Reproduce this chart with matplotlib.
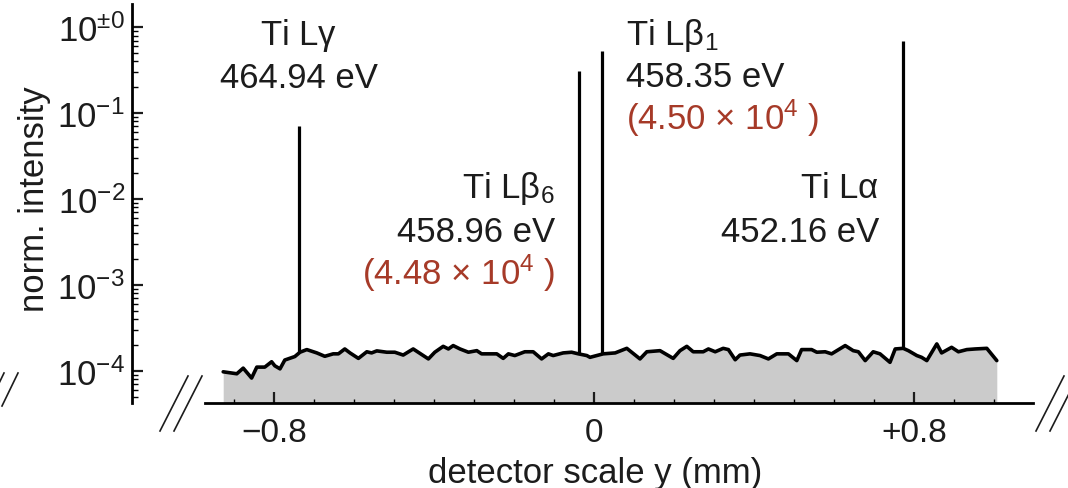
import numpy as np
import matplotlib
matplotlib.use("Agg")
import matplotlib.pyplot as plt
from matplotlib.lines import Line2D

plt.rcParams["font.family"] = ["Liberation Sans", "DejaVu Sans"]
plt.rcParams["mathtext.fontset"] = "custom"
plt.rcParams["mathtext.rm"] = "Liberation Sans"
plt.rcParams["mathtext.it"] = "Liberation Sans:italic"

# background level along the detector (y in mm, intensity in units of 1e-4)
bg_y = [-0.927, -0.893, -0.877, -0.856, -0.843, -0.823, -0.806, -0.798, -0.785,
        -0.773, -0.748, -0.735, -0.718, -0.693, -0.673, -0.652, -0.639, -0.623,
        -0.610, -0.589, -0.568, -0.556, -0.543, -0.518, -0.498, -0.477, -0.460,
        -0.452, -0.414, -0.398, -0.377, -0.364, -0.352, -0.335, -0.314, -0.293,
        -0.281, -0.243, -0.227, -0.214, -0.198, -0.173, -0.152, -0.131, -0.114,
        -0.102, -0.077, -0.056, -0.039, -0.018, -0.010, 0.023, 0.053, 0.082,
        0.115, 0.132, 0.165, 0.198, 0.215, 0.232, 0.248, 0.273, 0.286, 0.303,
        0.323, 0.336, 0.353, 0.365, 0.390, 0.415, 0.436, 0.457, 0.465, 0.486,
        0.507, 0.519, 0.544, 0.557, 0.578, 0.594, 0.628, 0.648, 0.661, 0.678,
        0.698, 0.715, 0.740, 0.753, 0.773, 0.786, 0.807, 0.819, 0.832, 0.857,
        0.869, 0.894, 0.911, 0.932, 0.953, 0.982, 1.007]
bg_level = [0.97, 0.92, 1.07, 0.82, 1.10, 1.10, 1.27, 1.14, 1.05,
            1.33, 1.46, 1.64, 1.76, 1.61, 1.47, 1.57, 1.57, 1.79,
            1.61, 1.39, 1.66, 1.61, 1.70, 1.64, 1.64, 1.52, 1.70,
            1.79, 1.37, 1.64, 1.92, 1.79, 1.96, 1.79, 1.64, 1.71,
            1.57, 1.57, 1.39, 1.57, 1.50, 1.66, 1.66, 1.37, 1.57,
            1.50, 1.61, 1.64, 1.57, 1.50, 1.43, 1.57, 1.61, 1.82,
            1.37, 1.66, 1.71, 1.39, 1.71, 1.92, 1.66, 1.66, 1.79, 1.66,
            1.82, 1.76, 1.34, 1.52, 1.57, 1.50, 1.37, 1.57, 1.57, 1.57,
            1.31, 1.76, 1.76, 1.64, 1.66, 1.57, 1.96, 1.71, 1.66, 1.31,
            1.66, 1.57, 1.25, 1.79, 1.82, 1.71, 1.50, 1.43, 1.31, 2.05,
            1.61, 1.87, 1.66, 1.76, 1.79, 1.82, 1.31]

# emission lines: position (mm), peak height, foot level
peak_names = [r"Ti L$\mathregular{γ}$", r"Ti L$\mathregular{β_6}$",
              r"Ti L$\mathregular{β_1}$", r"Ti L$\mathregular{α}$"]
peak_energy = ["464.94 eV", "458.96 eV", "458.35 eV", "452.16 eV"]
peak_pos = [-0.7375, -0.0375, 0.021, 0.773]
peak_height = [0.071, 0.31, 0.53, 0.70]
peak_foot = [1.64e-4, 1.57e-4, 1.57e-4, 1.82e-4]
peak_counts = [None, r"(4.48 × $\mathregular{10^4}$ )",
               r"(4.50 × $\mathregular{10^4}$ )", None]

yticks = [1e-4, 1e-3, 1e-2, 1e-1, 1]
ytick_labels = [r"$\mathregular{10^{-4}}$", r"$\mathregular{10^{-3}}$",
                r"$\mathregular{10^{-2}}$", r"$\mathregular{10^{-1}}$",
                r"$\mathregular{10^{±0}}$"]
xticks = [-0.8, 0, 0.8]
xtick_labels = ["\u22120.8", "0", "+0.8"]
xminor = [-0.9, -0.7, -0.6, -0.5, -0.4, -0.3, -0.2, -0.1, 0.1, 0.2, 0.3,
          0.4, 0.5, 0.6, 0.7, 0.9, 1.0]

INK = "#1c1c1c"
RED = "#a63a28"
FS = 25

W, H = 1068, 489
fig = plt.figure(figsize=(W / 100, H / 100), dpi=100)
ax = fig.add_axes([132 / W, 85 / H, 901 / W, 399 / H])

x = np.array(bg_y)
level = np.array(bg_level) * 1e-4
ax.fill_between(x, 1e-6, level, color="#cbcbcb", lw=0, zorder=1)
ax.plot(x, level, color="black", lw=2.6, solid_joinstyle="round",
        solid_capstyle="round", zorder=3)
ax.vlines(peak_pos, peak_foot, peak_height, color="black", lw=2.3, zorder=3)

ax.set_yscale("log")
ax.set_ylim(4.2e-5, 1.87)
ax.set_xlim(-1.155, 1.0975)

for side in ["top", "right"]:
    ax.spines[side].set_visible(False)
ax.spines["left"].set_linewidth(2.0)
ax.spines["bottom"].set_linewidth(2.0)
ax.spines["bottom"].set_bounds(-0.9725, 1.0975)

ax.set_yticks(yticks, ytick_labels)
ax.set_xticks(xticks, xtick_labels)
ax.set_xticks(xminor, minor=True)
ax.tick_params(axis="y", which="major", direction="in", length=8, width=1.6,
               labelsize=FS, pad=5, colors=INK)
ax.tick_params(axis="y", which="minor", direction="in", length=4, width=1.0)
ax.tick_params(axis="x", which="major", direction="in", length=8, width=1.6,
               labelsize=FS - 1, pad=10, colors=INK)
ax.tick_params(axis="x", which="minor", direction="in", length=3, width=1.0)

ax.set_ylabel("norm. intensity", fontsize=FS, color=INK)
ax.yaxis.set_label_coords(-0.108, 0.514)
ax.yaxis.label.set_va("center")
fig.text(595 / W, 6 / H, "detector scale y (mm)", fontsize=FS, color=INK,
         ha="center", va="baseline")

# line labels: name, energy and counts stacked below each other
label_y = [[0.639, 0.2017], [0.01055, 0.003242, 0.001023],
           [0.639, 0.2071, 0.0662], [0.01055, 0.003242]]
label_dx = [0.0, -0.06, 0.06, -0.06]
label_ha = ["center", "right", "left", "right"]
for i in range(4):
    lines = [peak_names[i], peak_energy[i]]
    colors = [INK, INK]
    if peak_counts[i]:
        lines.append(peak_counts[i])
        colors.append(RED)
    for txt, yy, c in zip(lines, label_y[i], colors):
        ax.text(peak_pos[i] + label_dx[i], yy, txt, fontsize=FS, color=c,
                ha=label_ha[i], va="baseline", zorder=4)

# axis break marks
def brk(x0, y0, x1, y1):
    fig.add_artist(Line2D([x0 / W, x1 / W], [1 - y0 / H, 1 - y1 / H],
                          transform=fig.transFigure, color=INK, lw=1.2))

for off in (0, 14):
    brk(160 + off, 432, 188 + off, 377)
    brk(1036 + off, 432, 1064 + off, 377)
    brk(-12 + off, 407, 4 + off, 374)

fig.savefig("out.png", dpi=100)
